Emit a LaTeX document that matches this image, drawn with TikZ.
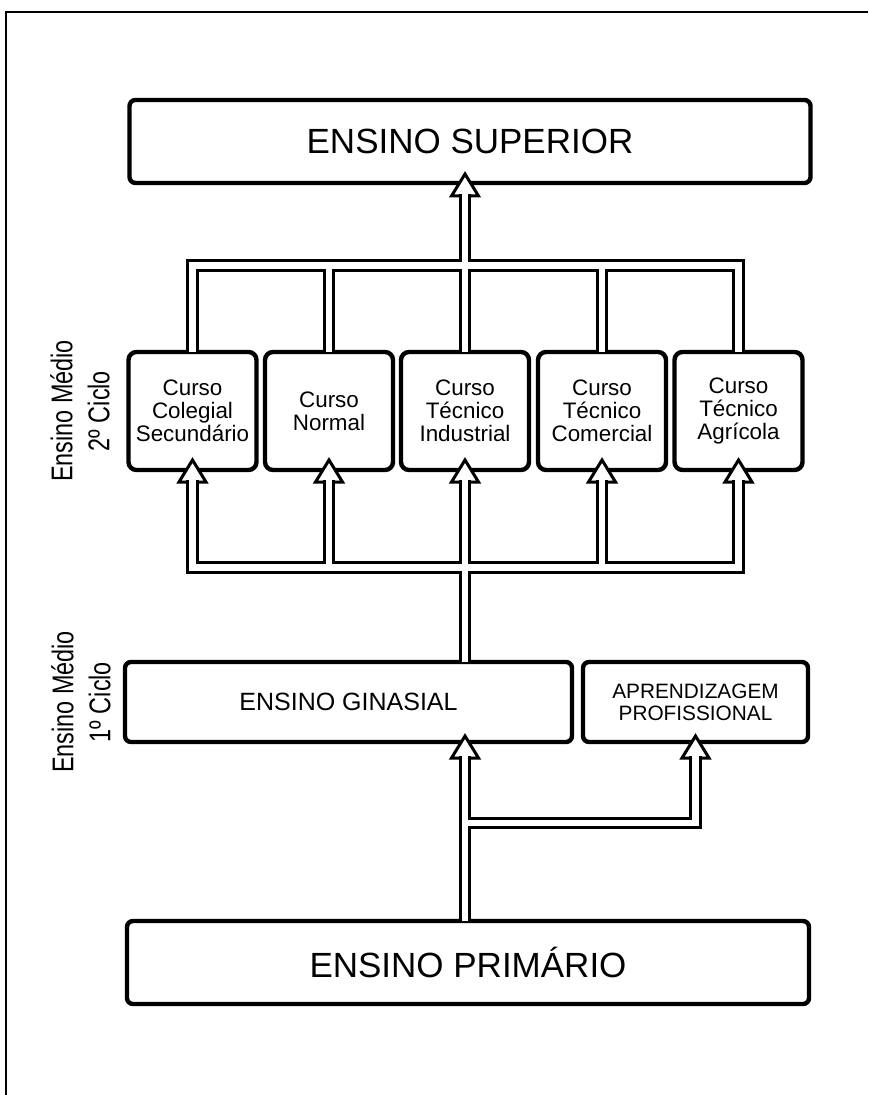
\documentclass[tikz,border=0pt]{standalone}
\usepackage{fontspec}
\setmainfont{Liberation Sans}
\newfontfamily\narrowfont[FakeStretch=0.78]{Liberation Sans}
\usetikzlibrary{calc}

\begin{document}
\begin{tikzpicture}[x=0.5pt, y=-0.5pt]
  \tikzset{
    frameline/.style={line width=1pt},
    bigbox/.style={draw, line width=2.2pt, rounded corners=3pt, outer sep=0pt,
           minimum width=340.5pt, minimum height=41.5pt,
           font=\fontsize{17.5}{20}\selectfont},
    cursobox/.style={draw, line width=2.2pt, rounded corners=4pt, outer sep=0pt,
           minimum width=64pt, minimum height=59pt, align=center, inner sep=0pt,
           font=\fontsize{11.2}{11.6}\selectfont},
    midbox/.style={draw, line width=2.2pt, rounded corners=3pt, outer sep=0pt,
           minimum height=40pt, align=center},
    pipe/.style={double=white, double distance=3.4pt, line width=1.5pt},
    head/.style={draw, fill=white, line width=1.5pt, line join=miter},
    sidelabel/.style={rotate=90, align=center,
           font=\narrowfont\fontsize{15}{18.5}\selectfont}
  }
  \useasboundingbox (0,0) rectangle (868,1095);
  \draw[frameline] (6,1095) -- (6,12) -- (868,12);

  % boxes
  \node[bigbox] (sup) at (470,141.5) {ENSINO SUPERIOR};
  \node[cursobox] (c1) at (192.5,411) {Curso\\Colegial\\Secundário};
  \node[cursobox] (c2) at (329,411) {Curso\\Normal};
  \node[cursobox] (c3) at (465,411) {Curso\\Técnico\\Industrial};
  \node[cursobox] (c4) at (602,411) {Curso\\Técnico\\Comercial};
  \node[cursobox] (c5) at (738.5,411) {Curso\\Técnico\\Agrícola};
  \node[midbox, minimum width=223.5pt, font=\fontsize{12.5}{14}\selectfont]
    (gin) at (348.5,702) {ENSINO GINASIAL};
  \node[midbox, minimum width=112.5pt, font=\fontsize{10.4}{11}\selectfont]
    (apr) at (695.5,702) {APRENDIZAGEM\\PROFISSIONAL};
  \node[bigbox, minimum width=341pt] (pri) at (468,962.5) {ENSINO PRIMÁRIO};

  % side labels
  \node[sidelabel] (lab2) at (80,411) {Ensino Médio\\2º Ciclo};
  \node[sidelabel] (lab1) at (81,702) {Ensino Médio\\1º Ciclo};

  % bus levels
  \coordinate (upbus) at (0,265.5);
  \coordinate (lowbus) at (0,567.5);
  \coordinate (fork) at (0,823);

  % arrow heads
  \path (c3.north |- sup.south) ++(0,-9) coordinate (tsup);
  \foreach \i in {1,...,5} {\path (c\i.south) ++(0,-10) coordinate (t\i);}
  \path (c3.south |- gin.south) ++(0,-6) coordinate (tgin);
  \path (apr.south) ++(0,-6) coordinate (tapr);
  \foreach \t in {tsup,t1,t2,t3,t4,t5,tgin,tapr} {
    \draw[head] (\t) -- ++(-13.5,22) -- ++(27,0) -- cycle;
    \path (\t) ++(0,19.8) coordinate (\t-b);
  }

  % pipes
  \draw[pipe] (c1.north) |- (upbus -| c5.north) -- (c5.north)
    (c2.north) -- (c2.north |- upbus)
    (c4.north) -- (c4.north |- upbus)
    (c3.north) -- (tsup-b);
  \draw[pipe] (t1-b) |- (lowbus -| t5-b) -- (t5-b)
    (t2-b) -- (t2-b |- lowbus)
    (t4-b) -- (t4-b |- lowbus)
    (t3-b) -- (t3-b |- gin.north);
  \draw[pipe] (tgin-b |- pri.north) -- (tgin-b)
    (tgin-b |- fork) -| (tapr-b);
\end{tikzpicture}
\end{document}
